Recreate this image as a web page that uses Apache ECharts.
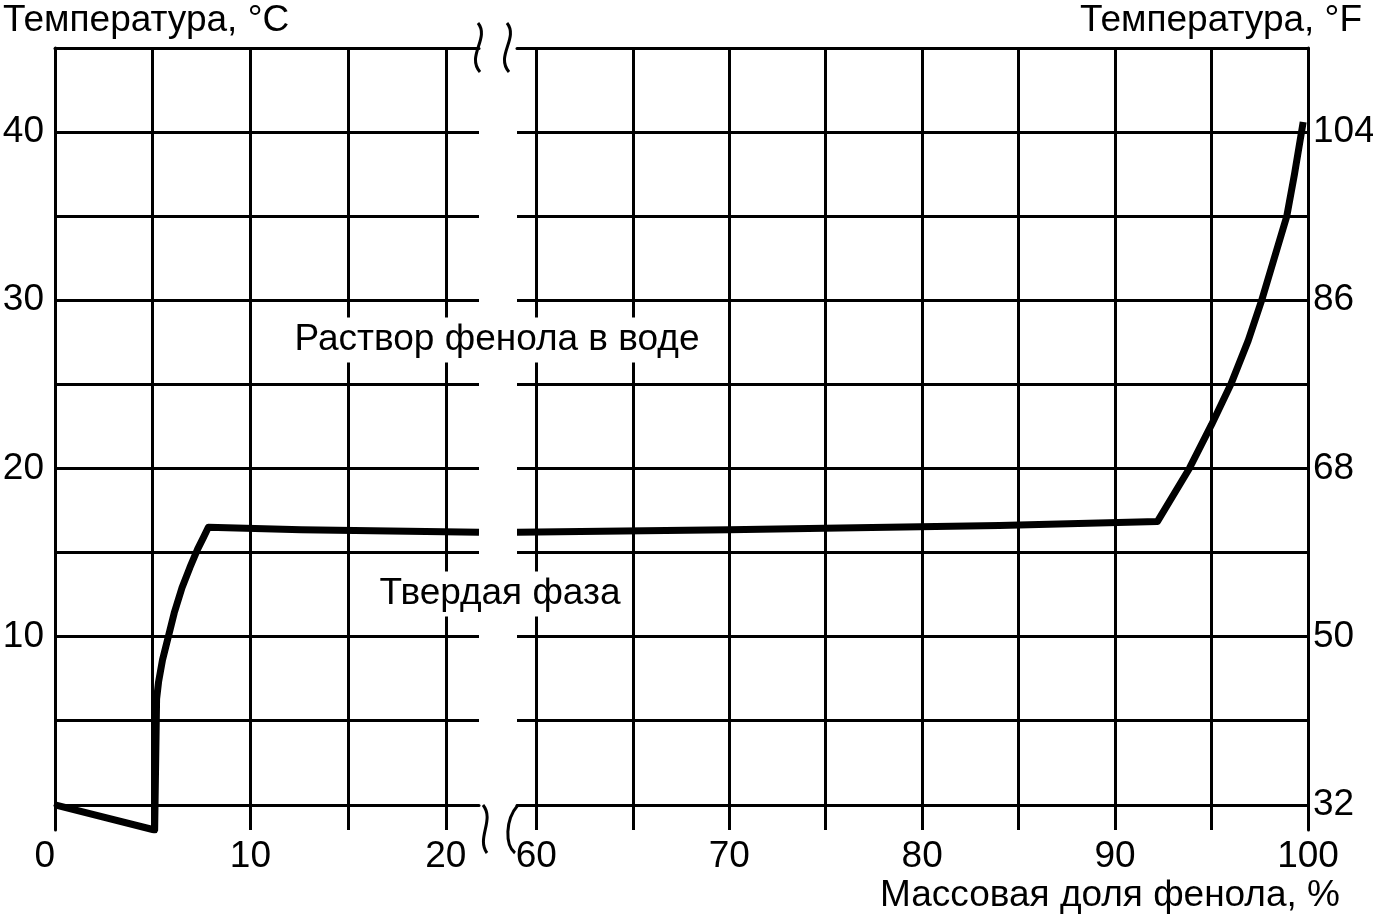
<!DOCTYPE html>
<html>
<head>
<meta charset="utf-8">
<title>Фенол - вода</title>
<script src="https://cdn.jsdelivr.net/npm/echarts@6/dist/echarts.min.js"></script>
<style>
html, body { margin: 0; padding: 0; background: #fff; }
#chart { width: 1373px; height: 917px; }
</style>
</head>
<body>
<div id="chart"></div>
<script>
// кривая, левая часть оси (0 - 21.7 %)
const leftPct  = [0, 5.1, 5.2, 5.3, 5.5, 5.8, 6.1, 6.5, 6.9, 7.3, 7.6, 7.85, 12.6, 21.7];
const leftTemp = [0, -1.5, 6.3, 7.3, 8.6, 10.0, 11.4, 12.9, 14.1, 15.2, 15.9, 16.5, 16.35, 16.2];
// правая часть оси (59 - 100 %)
const rightPct  = [59, 70, 84, 92.2, 93.85, 95.0, 96.0, 96.9, 97.6, 98.2, 98.9, 99.3, 99.75];
const rightTemp = [16.2, 16.35, 16.6, 16.85, 20, 22.6, 25, 27.6, 30, 32.3, 35, 37.5, 40.6];

// подписи осей
const xLabelsLeft = [0, 10, 20];
const xLabelsRight = [60, 70, 80, 90, 100];
const cLabels = [10, 20, 30, 40];
const fLabels = [32, 50, 68, 86, 104];

// линии сетки
const xGridLeft = [5, 10, 15, 20];
const xGridRight = [60, 65, 70, 75, 80, 85, 90, 95];
const yGrid = [0, 5, 10, 15, 20, 25, 30, 35, 40];

const font = '"Liberation Sans", Arial, sans-serif';
const fontSize = 37;
const black = '#000';

const chart = echarts.init(document.getElementById('chart'), null, { renderer: 'canvas' });

function gridLines(xs) {
    return {
        silent: true,
        symbol: ['none', 'none'],
        label: { show: false },
        lineStyle: { color: black, width: 3, type: 'solid' },
        emphasis: { disabled: true },
        animation: false,
        data: xs.map(v => ({ xAxis: v })).concat(yGrid.map(v => ({ yAxis: v })))
    };
}

const lineAxis = { show: true, lineStyle: { color: black, width: 3 } };
const labelStyle = { color: black, fontSize: fontSize, fontFamily: font };

chart.setOption({
    animation: false,
    backgroundColor: '#fff',
    grid: [
        { left: 55, top: 48, width: 424, bottom: 87, outerBoundsMode: 'none' },
        { left: 517, top: 48, right: 65, bottom: 87, outerBoundsMode: 'none' }
    ],
    xAxis: [
        {
            gridIndex: 0, type: 'value', min: 0, max: 21.7,
            axisLine: lineAxis, axisTick: { show: false }, splitLine: { show: false },
            axisLabel: Object.assign({ customValues: xLabelsLeft, margin: 8, alignMinLabel: 'right' }, labelStyle)
        },
        {
            gridIndex: 1, type: 'value', min: 59, max: 100,
            axisLine: lineAxis, axisTick: { show: false }, splitLine: { show: false },
            axisLabel: Object.assign({ customValues: xLabelsRight, margin: 8, alignMaxLabel: 'center' }, labelStyle)
        },
        {
            gridIndex: 0, type: 'value', min: 0, max: 21.7, position: 'top',
            axisLine: lineAxis, axisTick: { show: false }, splitLine: { show: false }, axisLabel: { show: false }
        },
        {
            gridIndex: 1, type: 'value', min: 59, max: 100, position: 'top',
            axisLine: lineAxis, axisTick: { show: false }, splitLine: { show: false }, axisLabel: { show: false }
        }
    ],
    yAxis: [
        {
            gridIndex: 0, type: 'value', min: -1.5, max: 45,
            axisLine: lineAxis, axisTick: { show: false }, splitLine: { show: false },
            axisLabel: Object.assign({ customValues: cLabels, margin: 11 }, labelStyle)
        },
        {
            gridIndex: 1, type: 'value', min: -1.5, max: 45, show: false
        },
        {
            // шкала в градусах Фаренгейта
            gridIndex: 1, type: 'value', position: 'right',
            min: -1.5 * 1.8 + 32, max: 45 * 1.8 + 32,
            axisLine: lineAxis, axisTick: { show: false }, splitLine: { show: false },
            axisLabel: Object.assign({ customValues: fLabels, margin: 5 }, labelStyle)
        }
    ],
    series: [
        {
            type: 'line', xAxisIndex: 0, yAxisIndex: 0,
            data: leftPct.map((x, i) => [x, leftTemp[i]]),
            showSymbol: false, silent: true, z: 5,
            lineStyle: { color: black, width: 7, join: 'round' },
            markLine: gridLines(xGridLeft)
        },
        {
            type: 'line', xAxisIndex: 1, yAxisIndex: 1,
            data: rightPct.map((x, i) => [x, rightTemp[i]]),
            showSymbol: false, silent: true, z: 5,
            lineStyle: { color: black, width: 7, join: 'round' },
            markLine: gridLines(xGridRight)
        }
    ],
    graphic: [
        { type: 'text', left: 3, top: 2, style: { text: 'Температура, °C', font: fontSize + 'px ' + font, fill: black } },
        { type: 'text', right: 11, top: 2, style: { text: 'Температура, °F', font: fontSize + 'px ' + font, fill: black } },
        { type: 'text', right: 33, top: 877, style: { text: 'Массовая доля фенола, %', font: fontSize + 'px ' + font, fill: black } },
        {
            type: 'text', x: 497, y: 340, z: 100,
            style: { text: 'Раствор фенола в воде', font: fontSize + 'px ' + font, fill: black,
                align: 'center', verticalAlign: 'middle', backgroundColor: '#fff', padding: [4, 4] }
        },
        {
            type: 'text', x: 500, y: 594, z: 100,
            style: { text: 'Твердая фаза', font: fontSize + 'px ' + font, fill: black,
                align: 'center', verticalAlign: 'middle', backgroundColor: '#fff', padding: [4, 4] }
        },
        // знаки разрыва оси
        { type: 'bezierCurve', z: 100, shape: { x1: 478, y1: 23, cpx1: 490, cpy1: 38, cpx2: 466, cpy2: 56, x2: 480, y2: 72 }, style: { stroke: black, lineWidth: 3, fill: null } },
        { type: 'bezierCurve', z: 100, shape: { x1: 507, y1: 23, cpx1: 519, cpy1: 38, cpx2: 495, cpy2: 56, x2: 509, y2: 72 }, style: { stroke: black, lineWidth: 3, fill: null } },
        { type: 'bezierCurve', z: 100, shape: { x1: 483, y1: 805, cpx1: 495, cpy1: 820, cpx2: 476, cpy2: 838, x2: 487, y2: 853 }, style: { stroke: black, lineWidth: 3, fill: null } },
        { type: 'bezierCurve', z: 100, shape: { x1: 518, y1: 805, cpx1: 505, cpy1: 820, cpx2: 505, cpy2: 845, x2: 515, y2: 853 }, style: { stroke: black, lineWidth: 3, fill: null } }
    ]
});
</script>
</body>
</html>
